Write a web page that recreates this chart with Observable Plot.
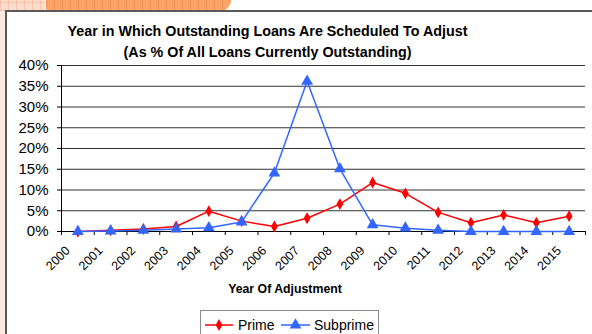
<!DOCTYPE html>
<html><head><meta charset="utf-8">
<script src="https://cdn.jsdelivr.net/npm/d3@7"></script>
<script src="https://cdn.jsdelivr.net/npm/@observablehq/plot@0.6"></script>
<style>
html,body{margin:0;padding:0;}
body{width:592px;height:334px;overflow:hidden;background:#fff;position:relative;font-family:"Liberation Sans",Arial,sans-serif;}
#decoL{position:absolute;left:0;top:0;width:5px;height:334px;background:#fdebe2;}
#decoT{position:absolute;left:0;top:0;width:45px;height:11px;background:#fcdcca;
  background-image:repeating-linear-gradient(90deg,rgba(240,150,110,.35) 0 1px,transparent 1px 8px),repeating-linear-gradient(0deg,rgba(240,150,110,.35) 0 1px,transparent 1px 8px);}
#decoO{position:absolute;left:46px;top:0;width:185px;height:11px;background:#fba466;border-radius:0 0 30px 8px;
  background-image:repeating-linear-gradient(90deg,rgba(230,110,40,.35) 0 1px,transparent 1px 8px);}
#frame{position:absolute;left:5px;top:10px;width:620px;height:400px;border-left:2px solid #5a5a5a;border-top:2px solid #5a5a5a;}
#chart{position:absolute;left:0;top:0;}
#over{position:absolute;left:0;top:0;}
</style>
</head><body>
<div id="decoL"></div><div id="decoT"></div><div id="decoO"></div>
<div id="frame"></div>
<div id="chart"></div>
<svg id="over" width="592" height="334"></svg>
<script>
const years = [2000,2001,2002,2003,2004,2005,2006,2007,2008,2009,2010,2011,2012,2013,2014,2015];
const prime = [0.0,0.3,0.6,1.2,4.9,2.5,1.2,3.2,6.6,11.8,9.2,4.6,2.1,4.0,2.1,3.7];
const subprime = [0.0,0.1,0.3,0.6,0.9,2.3,14.1,36.2,15.1,1.6,0.8,0.3,0.0,0.0,0.0,0.0];
const yTicks = [0,5,10,15,20,25,30,35,40];
const titleLines = ["Year in Which Outstanding Loans Are Scheduled To Adjust","(As % Of All Loans Currently Outstanding)"];
const xTitle = "Year Of Adjustment";
const seriesNames = ["Prime","Subprime"];
const colors = ["#ff0000","#3366ff"];

const data = years.map((y,i)=>({year:y, prime:prime[i], subprime:subprime[i]}));
const bounds = d3.range(years.length+1).map(i=>years[0]-0.5+i);
const font = '"Liberation Sans",Arial,sans-serif';

const chart = Plot.plot({
  width:592, height:334,
  marginLeft:61, marginRight:7, marginTop:65, marginBottom:103,
  style:{background:"transparent", fontFamily:font, color:"#000", overflow:"visible"},
  x:{domain:[bounds[0], bounds[bounds.length-1]]},
  y:{domain:[0,40]},
  marks:[
    Plot.ruleY(yTicks.filter(d=>d>0), {stroke:"#333", strokeWidth:1}),
    Plot.ruleY([0], {stroke:"#000"}),
    Plot.ruleX([bounds[0]], {stroke:"#000"}),
    Plot.axisY(yTicks, {tickFormat:d=>d+"%", tickSize:4, tickPadding:9, fontSize:15, label:null}),
    Plot.axisX(bounds, {tickFormat:()=>"", tickSize:4, label:null}),
    Plot.text(years, {x:d=>d, frameAnchor:"bottom", text:d=>String(d), rotate:-45, textAnchor:"end", lineAnchor:"middle", dx:-10, dy:17, fontSize:12.5, fill:"#000"}),
    Plot.line(data, {x:"year", y:"prime", stroke:colors[0], strokeWidth:1.5}),
    Plot.dot(data, {x:"year", y:"prime", symbol:"diamond", r:3.6, fill:colors[0], stroke:null}),
    Plot.line(data, {x:"year", y:"subprime", stroke:colors[1], strokeWidth:1.5}),
    Plot.dot(data, {x:"year", y:"subprime", symbol:"triangle", r:4.4, fill:colors[1], stroke:null})
  ]
});
document.getElementById("chart").appendChild(chart);

const over = d3.select("#over").style("font-family", font);
over.selectAll("text.t").data(titleLines).join("text")
  .attr("x",267.5).attr("y",(d,i)=>36+i*21).attr("text-anchor","middle")
  .attr("font-size",14.3).attr("font-weight","bold").text(d=>d);
over.append("text").attr("x",285).attr("y",293).attr("text-anchor","middle")
  .attr("font-size",12.3).attr("font-weight","bold").text(xTitle);

// legend
over.append("rect").attr("x",200.5).attr("y",310.5).attr("width",178).attr("height",30)
  .attr("fill","#fff").attr("stroke","#8a8a8a");
const lg = [{x0:205,x1:233,tx:238},{x0:281,x1:310,tx:314}];
lg.forEach((g,i)=>{
  over.append("line").attr("x1",g.x0).attr("x2",g.x1).attr("y1",325).attr("y2",325)
    .attr("stroke",colors[i]).attr("stroke-width",1.5);
  const sym = i===0 ? d3.symbolDiamond : d3.symbolTriangle;
  const size = i===0 ? 40 : 60;
  over.append("path").attr("d",d3.symbol(sym,size)())
    .attr("transform",`translate(${(g.x0+g.x1)/2},325)`).attr("fill",colors[i]);
  over.append("text").attr("x",g.tx).attr("y",329.5).attr("font-size",14).text(seriesNames[i]);
});
</script>
</body></html>
